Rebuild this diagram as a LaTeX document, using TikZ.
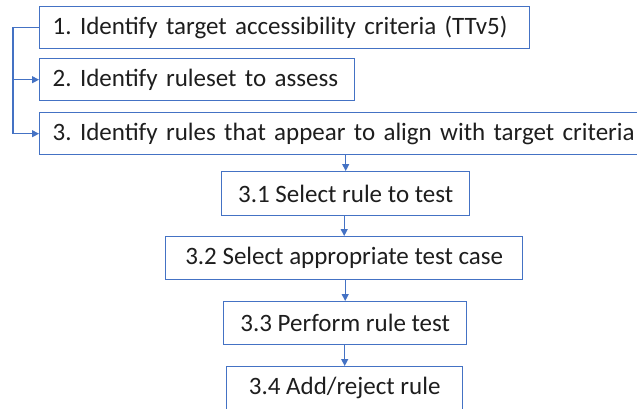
\documentclass[tikz,border=0pt]{standalone}
\usepackage{fontspec}
\setmainfont{Carlito}
\usetikzlibrary{arrows.meta}
\definecolor{stepblue}{RGB}{68,114,196}
\definecolor{steptext}{RGB}{30,30,30}
\tikzset{
  stepbox/.style={draw=stepblue, line width=1.4bp, fill=white, rectangle,
    anchor=north west, minimum height=42bp, inner sep=0pt,
    text=steptext, font=\fontsize{25bp}{28bp}\selectfont\frenchspacing},
  leftbox/.style={stepbox, align=left, text width=#1, inner xsep=13bp},
  link/.style={draw=stepblue, line width=1.2bp,
    -{Triangle[length=7bp,width=7bp]}},
  plain/.style={draw=stepblue, line width=1.2bp}
}
\begin{document}
\begin{tikzpicture}[x=1bp,y=-1bp]
  \useasboundingbox (0,0) rectangle (637,408);
  \clip (0,0) rectangle (637,408);
  % top-level steps
  \node[leftbox=464bp, minimum width=488bp] (b1) at (39,6)
    {1. Identify target accessibility criteria (TTv5)};
  \node[leftbox=289bp, minimum width=313bp] (b2) at (39,58)
    {2. Identify ruleset to assess};
  \node[leftbox=596bp, minimum width=620bp] (b3) at (39,112)
    {3. Identify rules that appear to align with target criteria};
  % sub-steps of step 3
  \node[stepbox, minimum width=248bp, minimum height=44bp] (c1) at (221,171)
    {3.1 Select rule to test};
  \node[stepbox, minimum width=357bp, minimum height=43bp] (c2) at (165,236)
    {3.2 Select appropriate test case};
  \node[stepbox, minimum width=243bp, minimum height=43bp] (c3) at (223,301)
    {3.3 Perform rule test};
  \node[stepbox, minimum width=236bp, minimum height=43bp] (c4) at (226,366)
    {3.4 Add/reject rule};
  % left rail linking steps 1-3
  \coordinate (rail) at (13,0);
  \draw[plain] (b1.west) -- (b1.west -| rail) -- (b3.west -| rail);
  \draw[link] (b2.west -| rail) -- (b2.west);
  \draw[link] (b3.west -| rail) -- (b3.west);
  % vertical chain
  \draw[link] (c1.north |- b3.south) -- (c1.north);
  \draw[link] (c2.north |- c1.south) -- (c2.north);
  \draw[link] (c3.north |- c2.south) -- (c3.north);
  \draw[link] (c4.north |- c3.south) -- (c4.north);
\end{tikzpicture}
\end{document}
